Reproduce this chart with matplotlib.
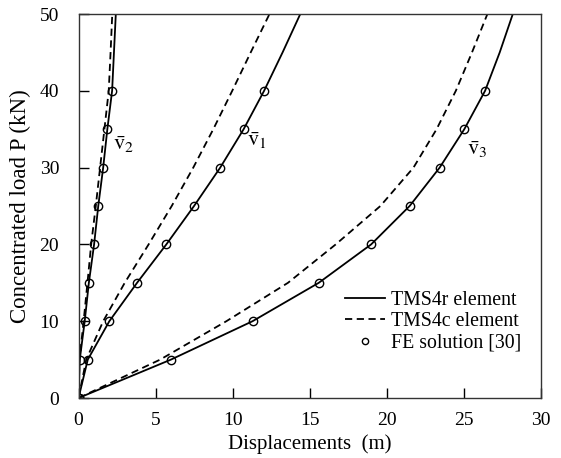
import matplotlib
matplotlib.use("Agg")
import matplotlib.pyplot as plt

plt.rcParams['font.family'] = ['Liberation Serif', 'DejaVu Serif']
plt.rcParams['mathtext.fontset'] = 'stix'

# load levels (kN)
P = [0, 5, 10, 15, 20, 25, 30, 35, 40, 45, 50]
P_fe = [0, 5, 10, 15, 20, 25, 30, 35, 40]

# TMS4r element (solid)
v1_r = [0, 0.6, 2.0, 3.8, 5.7, 7.5, 9.2, 10.72, 12.05, 13.25, 14.4]
v2_r = [0, 0.08, 0.4, 0.67, 1.01, 1.28, 1.6, 1.87, 2.18, 2.3, 2.42]
v3_r = [0, 6.0, 11.3, 15.6, 19.0, 21.5, 23.45, 25.05, 26.4, 27.35, 28.2]

# TMS4c element (dashed)
v1_c = [0, 0.5, 1.6, 3.0, 4.55, 6.05, 7.45, 8.75, 9.98, 11.18, 12.4]
v2_c = [0, 0.06, 0.33, 0.58, 0.82, 1.12, 1.4, 1.68, 1.96, 2.08, 2.19]
v3_c = [0, 5.3, 9.6, 13.6, 16.7, 19.6, 21.75, 23.25, 24.5, 25.55, 26.55]

# FE solution [30]
v1_fe = [0, 0.6, 2.0, 3.8, 5.7, 7.5, 9.2, 10.72, 12.05]
v2_fe = [0, 0.08, 0.4, 0.67, 1.01, 1.28, 1.6, 1.87, 2.18]
v3_fe = [0, 6.0, 11.3, 15.6, 19.0, 21.5, 23.45, 25.05, 26.4]

fig = plt.figure(figsize=(5.61, 4.58), dpi=100)
ax = fig.add_axes([0.14, 0.131, 0.8235, 0.8384])

lw = 1.3
dash = (0, (4, 2.5))
for xs in (v1_r, v2_r, v3_r):
    ax.plot(xs, P, color='black', lw=lw, ls='-')
for xs in (v1_c, v2_c, v3_c):
    ax.plot(xs, P, color='black', lw=lw, ls=dash)
for xs in (v1_fe, v2_fe, v3_fe):
    ax.plot(xs, P_fe, ls='none', marker='o', ms=6, mfc='none', mec='black', mew=1.0)

# legend proxies
h1, = ax.plot([], [], color='black', lw=lw, ls='-')
h2, = ax.plot([], [], color='black', lw=lw, ls=dash)
h3, = ax.plot([], [], ls='none', marker='o', ms=4.5, mfc='none', mec='black', mew=1.0)
ax.legend([h1, h2, h3], ['TMS4r element', 'TMS4c element', 'FE solution [30]'],
          loc='lower right', bbox_to_anchor=(0.958, 0.118),
          frameon=False, fontsize=14.3, handlelength=2.0, handletextpad=0.3,
          labelspacing=0.12, borderaxespad=0, borderpad=0)

ax.text(2.9, 33, r'$\bar{\mathrm{v}}_2$', fontsize=16, ha='center', va='center')
ax.text(11.6, 33.5, r'$\bar{\mathrm{v}}_1$', fontsize=16, ha='center', va='center')
ax.text(25.9, 32.4, r'$\bar{\mathrm{v}}_3$', fontsize=16, ha='center', va='center')

ax.set_xlim(0, 30)
ax.set_ylim(0, 50)
ax.set_xticks([0, 5, 10, 15, 20, 25, 30])
ax.set_yticks([0, 10, 20, 30, 40, 50])
ax.tick_params(direction='in', length=7, width=1, labelsize=14,
               top=False, right=False)
ax.tick_params(axis='x', pad=10)
ax.tick_params(axis='y', pad=14)
for s in ax.spines.values():
    s.set_color('#333333')
    s.set_linewidth(1.0)

ax.set_xlabel('Displacements  (m)', fontsize=15, labelpad=4)
ax.set_ylabel('Concentrated load P (kN)', fontsize=16.5, labelpad=6)

fig.savefig('out.png', dpi=100)
